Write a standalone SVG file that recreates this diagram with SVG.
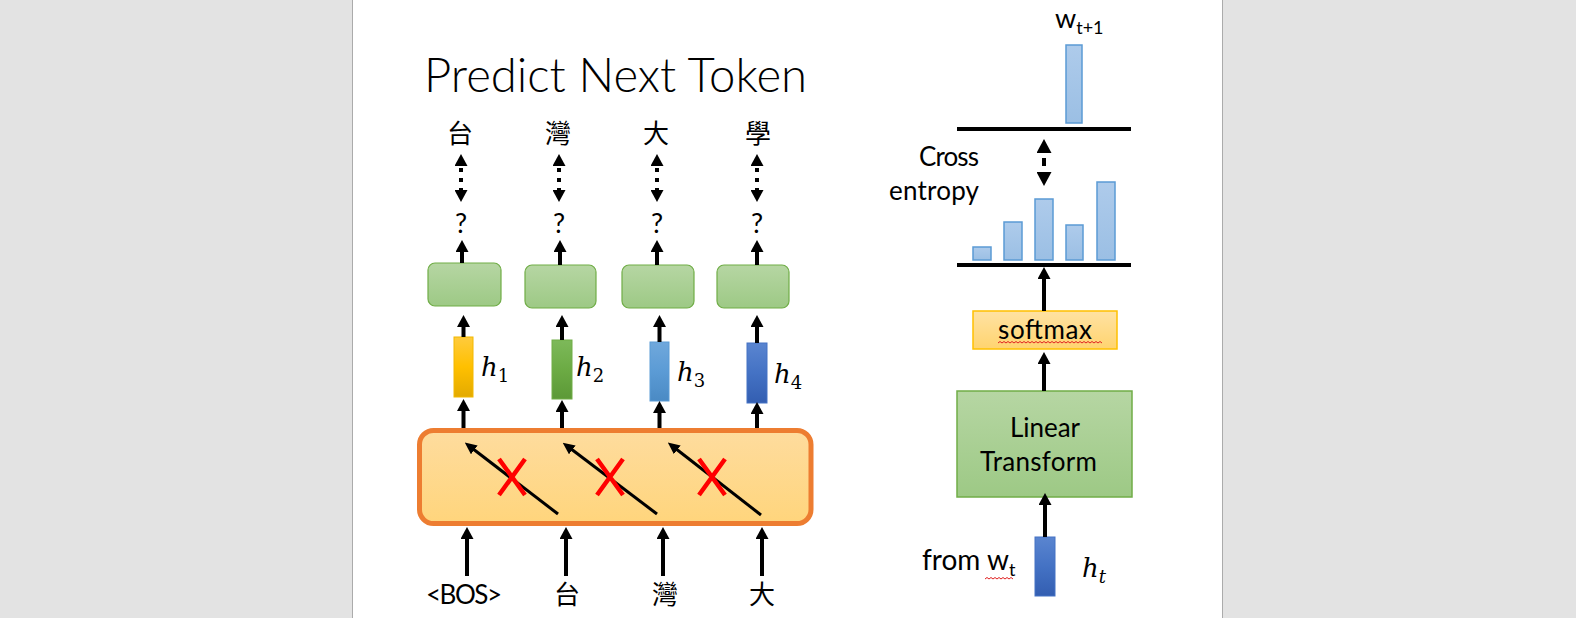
<svg xmlns="http://www.w3.org/2000/svg" width="1576" height="618" viewBox="0 0 1576 618">
<defs>
  <linearGradient id="gGreen" x1="0" y1="0" x2="0" y2="1"><stop offset="0" stop-color="#b6d6a3"/><stop offset="1" stop-color="#9dc985"/></linearGradient>
  <linearGradient id="gOrange" x1="0" y1="0" x2="0" y2="1"><stop offset="0" stop-color="#fedc9e"/><stop offset="1" stop-color="#ffd57c"/></linearGradient>
  <linearGradient id="gSoft" x1="0" y1="0" x2="0" y2="1"><stop offset="0" stop-color="#ffe2a3"/><stop offset="1" stop-color="#ffd46f"/></linearGradient>
  <linearGradient id="gBar" x1="0" y1="0" x2="0" y2="1"><stop offset="0" stop-color="#aecbeb"/><stop offset="1" stop-color="#9bbfe4"/></linearGradient>
  <linearGradient id="gY" x1="0" y1="0" x2="0" y2="1"><stop offset="0" stop-color="#ffcb3d"/><stop offset="0.5" stop-color="#ffc000"/><stop offset="1" stop-color="#e3aa00"/></linearGradient>
  <linearGradient id="gG" x1="0" y1="0" x2="0" y2="1"><stop offset="0" stop-color="#7db95a"/><stop offset="0.5" stop-color="#6cab44"/><stop offset="1" stop-color="#5c9937"/></linearGradient>
  <linearGradient id="gB" x1="0" y1="0" x2="0" y2="1"><stop offset="0" stop-color="#70a8dc"/><stop offset="0.5" stop-color="#5b9bd5"/><stop offset="1" stop-color="#4a8ac4"/></linearGradient>
  <linearGradient id="gD" x1="0" y1="0" x2="0" y2="1"><stop offset="0" stop-color="#5a85d0"/><stop offset="0.5" stop-color="#4472c4"/><stop offset="1" stop-color="#335eb1"/></linearGradient>
  <marker id="ah" markerUnits="userSpaceOnUse" markerWidth="12" markerHeight="13" viewBox="0 0 12 13" refX="1" refY="6.5" orient="auto-start-reverse"><path d="M0,0 L12,6.5 L0,13 z" fill="#000"/></marker>
  <marker id="ahb" markerUnits="userSpaceOnUse" markerWidth="14" markerHeight="15" viewBox="0 0 14 15" refX="1" refY="7.5" orient="auto-start-reverse"><path d="M0,0 L14,7.5 L0,15 z" fill="#000"/></marker>
  <marker id="ahs" markerUnits="userSpaceOnUse" markerWidth="12" markerHeight="11" viewBox="0 0 12 11" refX="1" refY="5.5" orient="auto"><path d="M0,0 L12,5.5 L0,11 z" fill="#000"/></marker>
</defs>
<style>
  .t{font-family:Lato,"Open Sans","Liberation Sans",sans-serif;fill:#000;font-size:26px}
  .title{font-family:Lato,"Open Sans","Liberation Sans",sans-serif;fill:#000;font-size:48px;font-weight:300}
  .q{font-family:Lato,"Open Sans","Liberation Sans",sans-serif;fill:#000;font-size:27px}
  .cjk{font-family:"Noto Sans CJK TC","Noto Sans CJK SC",sans-serif;font-size:26px;fill:#000}
  .m{font-family:"DejaVu Serif","Liberation Serif",serif;font-style:italic;font-size:26px;fill:#000}
  .sub{font-size:18px;font-style:normal}
  .ar{stroke:#000;stroke-width:4;fill:none;marker-end:url(#ah)}
  .dot{stroke:#000;stroke-width:4;fill:none;marker-start:url(#ah);marker-end:url(#ah)}
  .dotb{stroke:#000;stroke-width:4;fill:none;marker-start:url(#ahb);marker-end:url(#ahb)}
  .diag{stroke:#000;stroke-width:3;fill:none;marker-end:url(#ahs)}
  .x{stroke:#ff0000;stroke-width:4.5;fill:none}
  .gbox{fill:url(#gGreen);stroke:#70ad47;stroke-width:1.2}
  .bar{fill:url(#gBar);stroke:#5b9bd5;stroke-width:1.5}
  .base{stroke:#000;stroke-width:4}
  .sq{stroke:#e02020;stroke-width:1;fill:none}
</style>

<!-- page background -->
<rect x="0" y="0" width="1576" height="618" fill="#ffffff"/>
<rect x="0" y="0" width="352" height="618" fill="#e3e3e3"/>
<rect x="1223" y="0" width="353" height="618" fill="#e3e3e3"/>
<line x1="352.5" y1="0" x2="352.5" y2="618" stroke="#ababab" stroke-width="1"/>
<line x1="1222.5" y1="0" x2="1222.5" y2="618" stroke="#ababab" stroke-width="1"/>

<text id="title" class="title" x="424" y="92" textLength="383" lengthAdjust="spacingAndGlyphs">Predict Next Token</text>

<!-- left: targets -->
<g id="targets">
  <text class="cjk" x="460" y="143" text-anchor="middle">台</text>
  <text class="cjk" x="558" y="143" text-anchor="middle">灣</text>
  <text class="cjk" x="656" y="143" text-anchor="middle">大</text>
  <text class="cjk" x="758" y="143" text-anchor="middle">學</text>
</g>
<g id="questions">
  <text class="q" x="461" y="233" text-anchor="middle">?</text>
  <text class="q" x="559" y="233" text-anchor="middle">?</text>
  <text class="q" x="657" y="233" text-anchor="middle">?</text>
  <text class="q" x="757" y="233" text-anchor="middle">?</text>
</g>

<g id="outBoxes">
  <rect id="out1" class="gbox" x="428" y="263" width="73" height="43" rx="7"/>
  <rect id="out2" class="gbox" x="525" y="265" width="71" height="43" rx="7"/>
  <rect id="out3" class="gbox" x="622" y="265" width="72" height="43" rx="7"/>
  <rect id="out4" class="gbox" x="717" y="265" width="72" height="43" rx="7"/>
</g>

<g id="hidden">
  <g id="h1"><rect x="454" y="337" width="19" height="60" fill="url(#gY)" stroke="#f2b800" stroke-width="1"/>
    <text class="m" x="481" y="376">h<tspan class="sub" dy="6">1</tspan></text></g>
  <g id="h2"><rect x="552" y="340" width="20" height="59" fill="url(#gG)" stroke="#70ad47" stroke-width="1"/>
    <text class="m" x="576" y="376">h<tspan class="sub" dy="6">2</tspan></text></g>
  <g id="h3"><rect x="650" y="342" width="19" height="59" fill="url(#gB)" stroke="#5b9bd5" stroke-width="1"/>
    <text class="m" x="677" y="381">h<tspan class="sub" dy="6">3</tspan></text></g>
  <g id="h4"><rect x="747" y="343" width="20" height="60" fill="url(#gD)" stroke="#4472c4" stroke-width="1"/>
    <text class="m" x="774" y="383">h<tspan class="sub" dy="6">4</tspan></text></g>
</g>

<g id="model">
  <rect x="419.5" y="430.5" width="391.5" height="93" rx="14" fill="url(#gOrange)" stroke="#ed7d31" stroke-width="5"/>
  <line class="diag" x1="558" y1="514" x2="473.5" y2="449.3"/>
  <line class="diag" x1="657" y1="514" x2="571.5" y2="449.3"/>
  <line class="diag" x1="761" y1="515" x2="676.5" y2="449.3"/>
  <path class="x" d="M499,459 L525,495 M525,459 L499,495"/>
  <path class="x" d="M597,459 L623,495 M623,459 L597,495"/>
  <path class="x" d="M699,459 L725,495 M725,459 L699,495"/>
</g>

<g id="inputs">
  <text class="t" x="426" y="604" textLength="76">&lt;BOS&gt;</text>
  <text class="cjk" x="567" y="604" text-anchor="middle">台</text>
  <text class="cjk" x="665" y="604" text-anchor="middle">灣</text>
  <text class="cjk" x="762" y="604" text-anchor="middle">大</text>
</g>

<!-- right side -->
<g id="target-dist">
  <text class="t" x="1055" y="28" style="font-size:27px">w<tspan font-size="18" dy="6">t+1</tspan></text>
  <rect class="bar" x="1066" y="45" width="16" height="78"/>
  <line class="base" x1="957" y1="129" x2="1131" y2="129"/>
</g>
<g id="cross-entropy">
  <text class="t" x="919" y="166" textLength="60">Cross</text>
  <text class="t" x="889" y="200" textLength="90">entropy</text>
</g>
<g id="pred-dist">
  <rect class="bar" x="973" y="247" width="18" height="13"/>
  <rect class="bar" x="1004" y="222" width="18" height="38"/>
  <rect class="bar" x="1035" y="199" width="18" height="61"/>
  <rect class="bar" x="1066" y="225" width="17" height="35"/>
  <rect class="bar" x="1097" y="182" width="18" height="78"/>
  <line class="base" x1="957" y1="265" x2="1131" y2="265"/>
</g>
<g id="softmax">
  <rect x="973" y="311" width="144" height="38" fill="url(#gSoft)" stroke="#ffc000" stroke-width="1.5"/>
  <text class="t" x="998" y="339" textLength="94">softmax</text>
  <path class="sq" d="M998,343 l2,-1.5 l2,1.5 l2,-1.5 l2,1.5 l2,-1.5 l2,1.5 l2,-1.5 l2,1.5 l2,-1.5 l2,1.5 l2,-1.5 l2,1.5 l2,-1.5 l2,1.5 l2,-1.5 l2,1.5 l2,-1.5 l2,1.5 l2,-1.5 l2,1.5 l2,-1.5 l2,1.5 l2,-1.5 l2,1.5 l2,-1.5 l2,1.5 l2,-1.5 l2,1.5 l2,-1.5 l2,1.5 l2,-1.5 l2,1.5 l2,-1.5 l2,1.5 l2,-1.5 l2,1.5 l2,-1.5 l2,1.5 l2,-1.5 l2,1.5 l2,-1.5 l2,1.5 l2,-1.5 l2,1.5 l2,-1.5 l2,1.5 l2,-1.5 l2,1.5 l2,-1.5 l2,1.5 l2,-1.5 l2,1.5"/>
</g>
<g id="linear">
  <rect x="957" y="391" width="175" height="106" fill="url(#gGreen)" stroke="#70ad47" stroke-width="1.5"/>
  <text class="t" x="1010" y="437" textLength="70">Linear</text>
  <text class="t" x="980" y="471" textLength="117">Transform</text>
</g>
<g id="ht">
  <rect x="1035" y="537" width="20" height="59" fill="url(#gD)" stroke="#4472c4" stroke-width="1"/>
  <text class="m" x="1082" y="577">h<tspan font-size="18" dy="6">t</tspan></text>
  <text class="t" x="922" y="570" style="font-size:28px">from w<tspan font-size="18" dy="6">t</tspan></text>
  <path class="sq" d="M985,579 l2,-1.5 l2,1.5 l2,-1.5 l2,1.5 l2,-1.5 l2,1.5 l2,-1.5 l2,1.5 l2,-1.5 l2,1.5 l2,-1.5 l2,1.5 l2,-1.5 l2,1.5"/>
</g>

<g id="connectors">
  <line class="dot" x1="461" y1="165" x2="461" y2="191" stroke-dasharray="0 3 4 3"/>
  <line class="dot" x1="559" y1="165" x2="559" y2="191" stroke-dasharray="0 3 4 3"/>
  <line class="dot" x1="657" y1="165" x2="657" y2="191" stroke-dasharray="0 3 4 3"/>
  <line class="dot" x1="757" y1="165" x2="757" y2="191" stroke-dasharray="0 3 4 3"/>
  <line class="ar" x1="462" y1="263" x2="462" y2="251"/>
  <line class="ar" x1="560" y1="265" x2="560" y2="251"/>
  <line class="ar" x1="657" y1="265" x2="657" y2="251"/>
  <line class="ar" x1="757" y1="265" x2="757" y2="251"/>
  <line class="ar" x1="463.5" y1="337" x2="463.5" y2="326"/>
  <line class="ar" x1="562" y1="340" x2="562" y2="326"/>
  <line class="ar" x1="659.5" y1="342" x2="659.5" y2="326"/>
  <line class="ar" x1="757" y1="343" x2="757" y2="326"/>
  <line class="ar" x1="463.5" y1="428" x2="463.5" y2="410"/>
  <line class="ar" x1="562" y1="428" x2="562" y2="411"/>
  <line class="ar" x1="659.5" y1="428" x2="659.5" y2="412"/>
  <line class="ar" x1="757" y1="428" x2="757" y2="413"/>
  <line class="ar" x1="467" y1="576" x2="467" y2="538"/>
  <line class="ar" x1="566" y1="576" x2="566" y2="538"/>
  <line class="ar" x1="663" y1="576" x2="663" y2="538"/>
  <line class="ar" x1="762" y1="576" x2="762" y2="538"/>
  <line class="dotb" x1="1044" y1="152" x2="1044" y2="173" stroke-dasharray="0 6 8 100"/>
  <line class="ar" x1="1044" y1="311" x2="1044" y2="278"/>
  <line class="ar" x1="1044" y1="391" x2="1044" y2="363"/>
  <line class="ar" x1="1045" y1="537" x2="1045" y2="504"/>
</g>
</svg>
